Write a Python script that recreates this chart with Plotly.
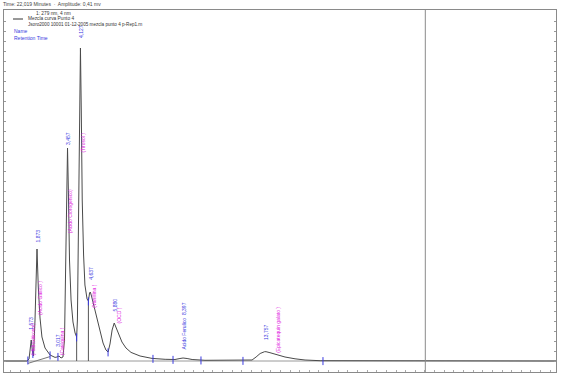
import numpy as np
import plotly.graph_objects as go

# ---- data (time in minutes, amplitude in mV) ----
trace_time = [0.16, 1.35, 1.46, 1.573, 1.64, 1.69, 1.77, 1.873, 1.94, 2.03, 2.13, 2.29, 2.55, 2.81,
              2.91, 3.017, 3.12, 3.22, 3.30, 3.35, 3.40, 3.457, 3.50, 3.56, 3.64, 3.74, 3.85, 3.93,
              3.97, 4.03, 4.08, 4.127, 4.17, 4.22, 4.29, 4.36, 4.47, 4.54, 4.60, 4.637, 4.70, 4.83,
              4.99, 5.14, 5.30, 5.45, 5.56, 5.66, 5.77, 5.880, 5.97, 6.10, 6.28, 6.49, 6.75, 7.22,
              7.84, 8.52, 9.03, 9.29, 9.45, 9.66, 9.92, 10.59, 12.67, 13.03, 13.24, 13.45, 13.68,
              13.757, 13.96, 14.33, 14.74, 15.26, 15.78, 16.56, 28.80]
trace_amp = [0.0, 0.0, 0.10, 1.05, 0.45, 0.25, 2.05, 5.60, 3.70, 2.15, 1.20, 0.65, 0.30, 0.18,
             0.20, 0.25, 0.15, 0.20, 1.05, 4.05, 9.05, 10.65, 8.55, 5.05, 3.05, 1.95, 1.40, 1.20,
             2.05, 6.55, 12.05, 15.65, 12.55, 8.05, 5.30, 3.80, 3.10, 3.00, 3.40, 3.45, 3.25, 2.75,
             2.05, 1.45, 0.90, 0.55, 0.45, 0.85, 1.55, 1.90, 1.70, 1.35, 0.95, 0.65, 0.43, 0.25,
             0.13, 0.085, 0.075, 0.125, 0.15, 0.125, 0.075, 0.035, 0.025, 0.05, 0.20, 0.375, 0.465,
             0.465, 0.415, 0.30, 0.20, 0.11, 0.05, 0.015, 0.0]

# peak labels: retention time text, compound name, label positions
rt_labels = ["1,573", "1,873", "3,017", "3,457", "4,127", "4,637", "5,880", "Acido Ferulico  8,397", "13,757"]
rt_x = [1.52, 1.873, 2.93, 3.457, 4.127, 4.637, 5.87, 9.45, 13.757]
rt_y = [1.45, 5.80, 0.60, 10.70, 16.05, 3.95, 2.35, 0.45, 0.95]
name_labels = ["(Hidroxitirosol)", "(Acido Gallico )", "(Catequina )", "(Acido Clorogenico)",
               "(Tirosol )", "(Vanillina )", "(OCD )", "(Epicatequin galato )"]
name_x = [1.66, 2.03, 3.18, 3.60, 4.24, 4.82, 6.15, 14.37]
name_y = [0.20, 2.20, 0.20, 6.30, 10.30, 2.55, 1.80, 0.30]

# integration events (blue ticks) and drop lines
event_times = [1.40, 1.66, 2.55, 2.96, 3.93, 4.54, 5.56, 7.89, 8.93, 10.38, 12.56, 16.71]
drop_times = [3.93, 4.54]

cursor_time = 22.019
x_range = [0.161, 28.80]
y_range = [-0.55, 17.55]

header = "Time: 22,019 Minutes  ·  Amplitude: 0,41 mv"
legend_lines = ["1: 279 nm, 4 nm", "Mezcla curva Punto 4",
                "Jsoro2000 10001 01-12-2005 mezcla punto 4 p-Rep1.rn"]

FONT = "Liberation Sans, Arial, sans-serif"
BLUE = "#3a3ae0"
MAG = "#e020e0"
GRAY = "#8a8a8a"
LABEL_SIZE = 5

fig = go.Figure()
fig.add_trace(go.Scatter(x=[x_range[0], x_range[1]], y=[0, 0], mode="lines",
                         line=dict(color="#9a9a9a", width=1), hoverinfo="skip", showlegend=False))
fig.add_trace(go.Scatter(x=trace_time, y=trace_amp, mode="lines",
                         line=dict(color="#4a4a4a", width=1), showlegend=False))

shapes = []
# cursor
shapes.append(dict(type="line", xref="x", yref="paper", x0=cursor_time, x1=cursor_time, y0=0, y1=1,
                   line=dict(color=GRAY, width=1)))
# drop lines
for t in drop_times:
    a = float(np.interp(t, trace_time, trace_amp))
    shapes.append(dict(type="line", xref="x", yref="y", x0=t, x1=t, y0=0, y1=a,
                       line=dict(color="#555555", width=1)))
# integration baseline segment
shapes.append(dict(type="line", xref="x", yref="y", x0=1.40, x1=2.55, y0=-0.12, y1=0.22,
                   line=dict(color="#777777", width=1)))
# event ticks
for t in event_times:
    a = float(np.interp(t, trace_time, trace_amp))
    shapes.append(dict(type="line", xref="x", yref="y", x0=t, x1=t, y0=a - 0.22, y1=a + 0.18,
                       line=dict(color=BLUE, width=1)))

# header and legend in pixel positions converted to paper coordinates
W, H = 552.0, 362.0
def px(xp):
    return (xp - 4) / W
def py(yp):
    return (372 - yp) / H

shapes.append(dict(type="line", xref="paper", yref="paper", x0=px(13), x1=px(23), y0=py(19), y1=py(19),
                   line=dict(color="#333333", width=1)))

annotations = []
for txt, x, y in zip(rt_labels, rt_x, rt_y):
    annotations.append(dict(x=x, y=y, xref="x", yref="y", text=txt, showarrow=False, textangle=-90,
                            xanchor="center", yanchor="bottom",
                            font=dict(family=FONT, size=LABEL_SIZE, color=BLUE)))
for txt, x, y in zip(name_labels, name_x, name_y):
    annotations.append(dict(x=x, y=y, xref="x", yref="y", text=txt, showarrow=False, textangle=-90,
                            xanchor="center", yanchor="bottom",
                            font=dict(family=FONT, size=LABEL_SIZE, color=MAG)))

annotations.append(dict(x=px(1), y=py(4), xref="paper", yref="paper", text=header, showarrow=False,
                        xanchor="left", yanchor="middle", font=dict(family=FONT, size=5, color="#444444")))
annotations.append(dict(x=px(34), y=py(13), xref="paper", yref="paper", text=legend_lines[0],
                        showarrow=False, xanchor="left", yanchor="middle",
                        font=dict(family=FONT, size=4.8, color="#333333")))
annotations.append(dict(x=px(26), y=py(19), xref="paper", yref="paper", text=legend_lines[1],
                        showarrow=False, xanchor="left", yanchor="middle",
                        font=dict(family=FONT, size=4.8, color="#333333")))
annotations.append(dict(x=px(26), y=py(24.5), xref="paper", yref="paper", text=legend_lines[2],
                        showarrow=False, xanchor="left", yanchor="middle",
                        font=dict(family=FONT, size=4.6, color="#333333")))
annotations.append(dict(x=px(12), y=py(31), xref="paper", yref="paper", text="Name",
                        showarrow=False, xanchor="left", yanchor="middle",
                        font=dict(family=FONT, size=5, color=BLUE)))
annotations.append(dict(x=px(12), y=py(38), xref="paper", yref="paper", text="Retention Time",
                        showarrow=False, xanchor="left", yanchor="middle",
                        font=dict(family=FONT, size=5, color=BLUE)))

fig.update_layout(
    width=561, height=381,
    margin=dict(l=4, r=5, t=10, b=9),
    paper_bgcolor="white", plot_bgcolor="white",
    xaxis=dict(range=x_range, showgrid=False, zeroline=False, showline=True, mirror=True,
               linecolor=GRAY, linewidth=1, ticks="inside", ticklen=2, tickcolor="#aaaaaa",
               dtick=0.5, showticklabels=False),
    yaxis=dict(range=y_range, showgrid=False, zeroline=False, showline=True, mirror="ticks",
               linecolor=GRAY, linewidth=1, ticks="inside", ticklen=2, tickcolor="#999999",
               dtick=0.5, tick0=0, showticklabels=False),
    shapes=shapes,
    annotations=annotations,
    showlegend=False,
)

fig.write_html("out.html")
